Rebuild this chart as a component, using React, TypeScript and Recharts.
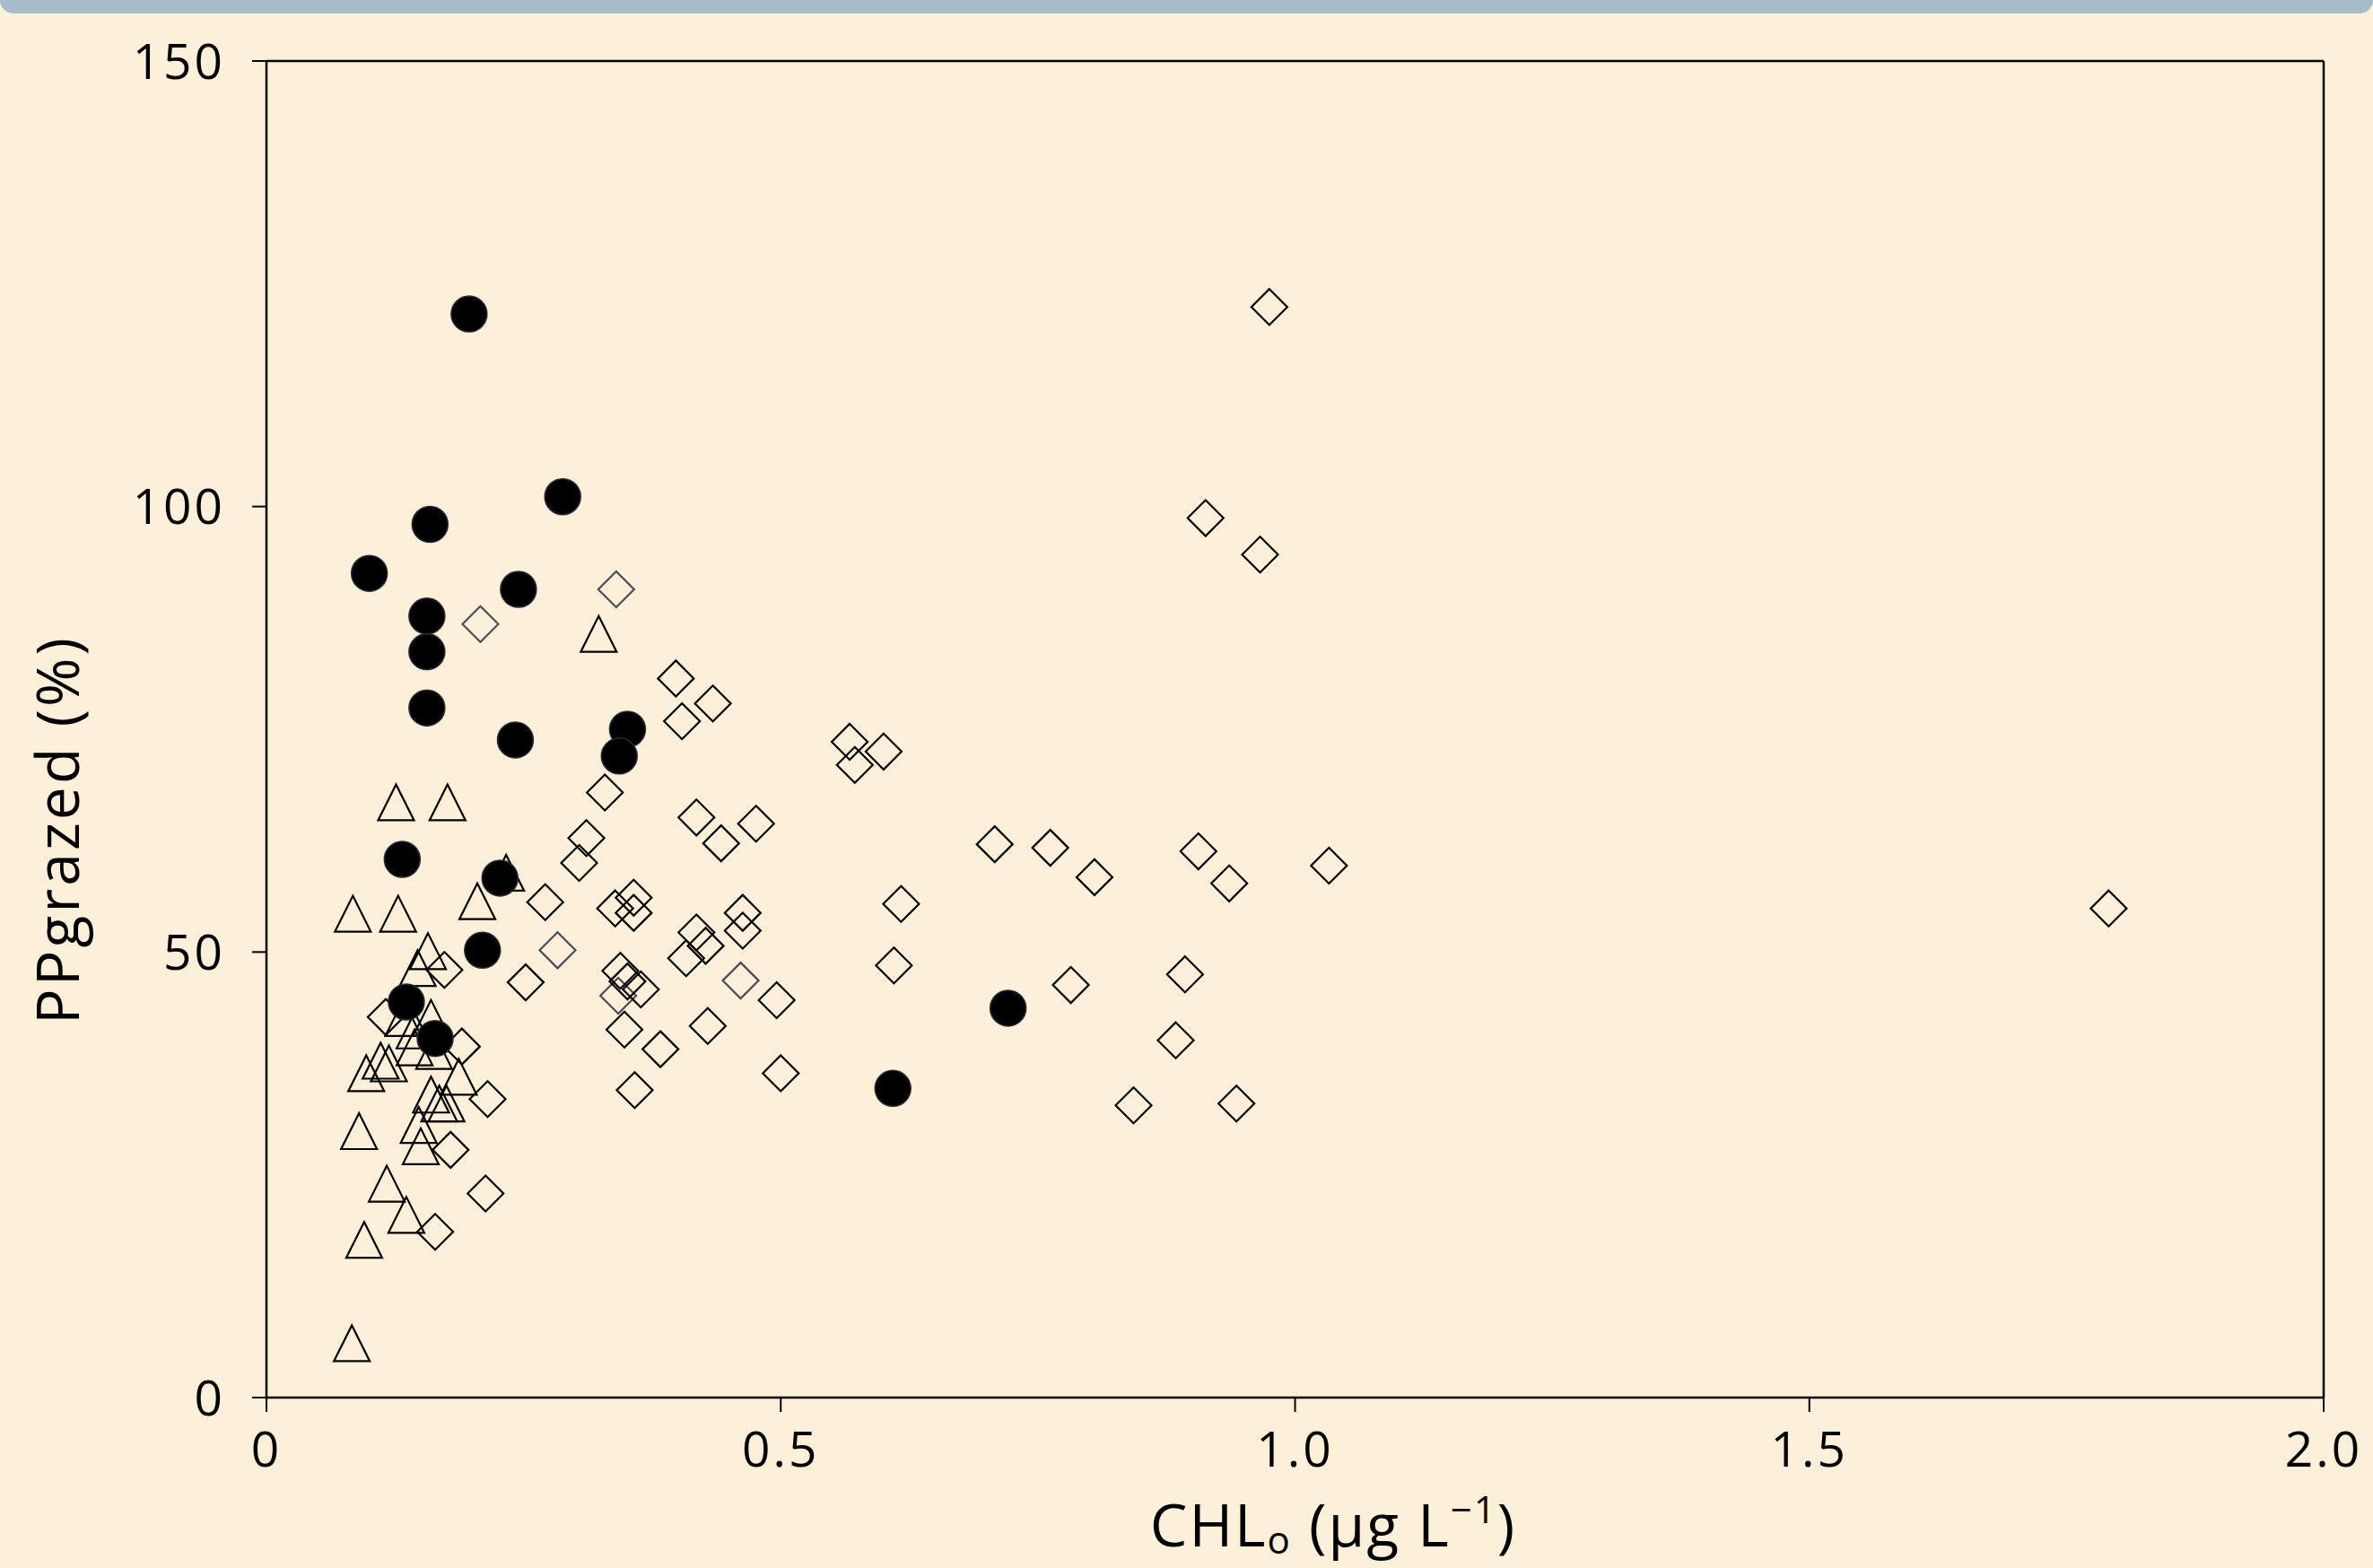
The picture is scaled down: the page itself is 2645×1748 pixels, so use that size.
import { ScatterChart, Scatter, XAxis, YAxis, ReferenceLine, Label } from 'recharts';

// CHLo (ug/L) vs PPgrazed (%)
const circleX = [0.197, 0.288, 0.159, 0.100, 0.245, 0.156, 0.156, 0.156, 0.242, 0.351, 0.343, 0.132, 0.227, 0.210, 0.136, 0.164, 0.721, 0.609];
const circleY = [121.6, 101.1, 98.0, 92.5, 90.7, 87.7, 83.7, 77.4, 73.8, 75.0, 72.0, 60.4, 58.3, 50.2, 44.4, 40.3, 43.7, 34.7];

const triangleX = [0.083, 0.095, 0.136, 0.117, 0.090, 0.084, 0.128, 0.126, 0.176, 0.323, 0.205, 0.233, 0.157, 0.147, 0.160, 0.133, 0.144, 0.144, 0.163, 0.111, 0.119, 0.097, 0.187, 0.160, 0.168, 0.175, 0.148, 0.150];
const triangleY = [6.1, 17.7, 20.5, 24.0, 29.9, 54.3, 54.3, 66.8, 66.8, 85.7, 55.7, 58.9, 50.1, 48.2, 42.6, 42.6, 41.2, 39.3, 38.9, 37.8, 37.5, 36.4, 36.0, 34.0, 33.0, 33.0, 30.6, 28.2];

const diamondX = [0.975, 0.913, 0.966, 0.398, 0.434, 0.404, 0.567, 0.600, 0.572, 0.329, 0.418, 0.476, 0.442, 0.311, 0.304, 0.708, 0.762, 0.906, 1.033, 0.805, 0.936, 1.791, 0.271, 0.339, 0.357, 0.357, 0.617, 0.463, 0.463, 0.418, 0.427, 0.408, 0.610, 0.893, 0.344, 0.351, 0.364, 0.252, 0.782, 0.496, 0.429, 0.348, 0.383, 0.884, 0.500, 0.358, 0.843, 0.943, 0.173, 0.190, 0.116, 0.215, 0.179, 0.213, 0.164];
const diamondY = [122.4, 98.7, 94.6, 80.7, 77.9, 75.9, 73.6, 72.5, 71.0, 67.9, 65.1, 64.4, 62.2, 62.8, 60.0, 62.1, 61.7, 61.3, 59.7, 58.4, 57.7, 54.9, 55.6, 54.9, 56.1, 54.4, 55.4, 54.4, 52.4, 52.2, 50.7, 49.3, 48.5, 47.5, 47.9, 46.7, 45.8, 46.6, 46.3, 44.6, 41.7, 41.3, 39.1, 40.1, 36.4, 34.5, 32.8, 33.0, 48.0, 39.4, 42.7, 33.5, 27.8, 22.9, 18.6];

// the few diamonds drawn in a lighter grey
const greyDiamondX = [0.208, 0.340, 0.283, 0.342, 0.461];
const greyDiamondY = [86.8, 90.7, 50.2, 45.1, 46.8];

const xTicks = [0, 0.5, 1, 1.5, 2];
const xTickLabels = ['0', '0.5', '1.0', '1.5', '2.0'];
const yTicks = [0, 50, 100, 150];

const zip = (xs: number[], ys: number[]) => xs.map((x, i) => ({ x, y: ys[i] }));

const FONT = '"Open Sans", sans-serif';
const R = 20;

const Dot = (p: any) => <circle cx={p.cx} cy={p.cy} r={R} fill="#000" stroke="#2a2a3a" strokeWidth={1.5} />;

const Tri = (p: any) => (
    <polygon
        points={`${p.cx},${p.cy - R} ${p.cx - R},${p.cy + R} ${p.cx + R},${p.cy + R}`}
        fill="none" stroke="#000" strokeWidth={2.2}
    />
);

const makeDiamond = (color: string) => (p: any) => (
    <polygon
        points={`${p.cx},${p.cy - R} ${p.cx + R},${p.cy} ${p.cx},${p.cy + R} ${p.cx - R},${p.cy}`}
        fill="none" stroke={color} strokeWidth={2.2}
    />
);

const XTitle = () => (
    <text x={1486} y={1724} textAnchor="middle" fontFamily={FONT} fontSize={66} letterSpacing={2} fill="#000">
        CHL<tspan dy={8} fontSize={42}>o</tspan>
        <tspan dy={-8}> (μg L</tspan>
        <tspan dy={-26} fontSize={42}>−1</tspan>
        <tspan dy={26}>)</tspan>
    </text>
);

const YTitle = () => (
    <text x={88} y={925} transform="rotate(-90, 88, 925)" textAnchor="middle" fontFamily={FONT} fontSize={66} letterSpacing={3} fill="#000">
        PPgrazed (%)
    </text>
);

const tickStyle = { fill: '#000', fontSize: 55, fontFamily: FONT, letterSpacing: 3 };

export default function App() {
    return (
        <div style={{ position: 'absolute', left: 0, top: 0, width: 2645, height: 1748, background: '#fcf1d8', overflow: 'hidden' }}>
            <div style={{ position: 'absolute', left: 0, top: 0, width: 2645, height: 15, background: '#a7bccb', borderBottomLeftRadius: 20, borderBottomRightRadius: 20 }} />
            <div style={{ position: 'absolute', left: 0, top: 0 }}>
                <ScatterChart width={2645} height={1748} margin={{ top: 68, right: 55, bottom: 70, left: 97 }}>
                    <XAxis
                        type="number"
                        dataKey="x"
                        domain={[0, 2]}
                        ticks={xTicks}
                        tickFormatter={(v: number) => xTickLabels[xTicks.indexOf(v)]}
                        height={120}
                        axisLine={{ stroke: '#000', strokeWidth: 2.5 }}
                        tickLine={{ stroke: '#000', strokeWidth: 2 }}
                        tickSize={16}
                        tickMargin={22}
                        tick={tickStyle}
                    >
                        <Label content={XTitle} />
                    </XAxis>
                    <YAxis
                        type="number"
                        dataKey="y"
                        domain={[0, 150]}
                        ticks={yTicks}
                        width={200}
                        axisLine={{ stroke: '#000', strokeWidth: 2.5 }}
                        tickLine={{ stroke: '#000', strokeWidth: 2 }}
                        tickSize={16}
                        tickMargin={30}
                        tick={tickStyle}
                    >
                        <Label content={YTitle} />
                    </YAxis>
                    <ReferenceLine y={150} stroke="#000" strokeWidth={2.5} />
                    <ReferenceLine x={2} stroke="#000" strokeWidth={2.5} />
                    <Scatter data={zip(triangleX, triangleY)} shape={Tri} isAnimationActive={false} />
                    <Scatter data={zip(greyDiamondX, greyDiamondY)} shape={makeDiamond('#4a4a58')} isAnimationActive={false} />
                    <Scatter data={zip(diamondX, diamondY)} shape={makeDiamond('#000')} isAnimationActive={false} />
                    <Scatter data={zip(circleX, circleY)} shape={Dot} isAnimationActive={false} />
                </ScatterChart>
            </div>
        </div>
    );
}
